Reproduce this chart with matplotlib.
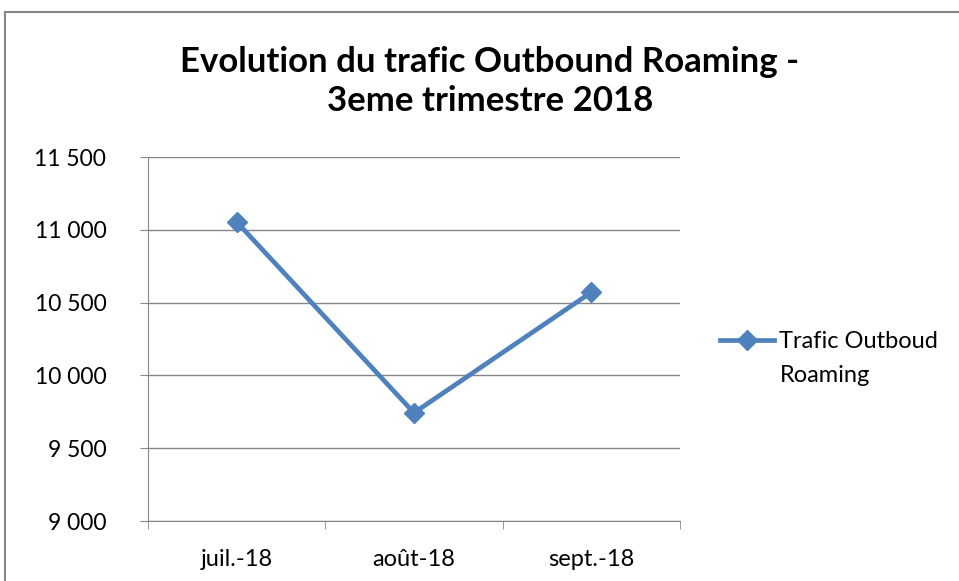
import matplotlib.pyplot as plt
from matplotlib.patches import Rectangle
from matplotlib.ticker import FuncFormatter, FixedLocator

# donnees
mois = ["juil.-18", "août-18", "sept.-18"]
trafic = [11054, 9743, 10571]
serie = "Trafic Outboud"
titre = "Evolution du trafic Outbound Roaming -\n3eme trimestre 2018"

plt.rcParams['font.family'] = ['Lato', 'DejaVu Sans']

fig = plt.figure(figsize=(9.59, 5.81), dpi=100)
ax = fig.add_axes([148/959, 1 - 521/581, (680-148)/959, (521-157)/581])

# cadre du graphique
fig.patches.append(Rectangle((5/959, -0.1), 1.1, 1 - 12/581 + 0.1, transform=fig.transFigure,
                             fill=False, edgecolor='#868686', lw=1.5))

x = range(len(mois))
ax.plot(x, trafic, color='#4F81BD', lw=3.4, marker='D', ms=10, label=serie, zorder=3)

ax.set_xlim(-0.5, len(mois) - 0.5)
ax.set_ylim(9000, 11500)
ax.set_yticks(range(9000, 11501, 500))
ax.yaxis.set_major_formatter(FuncFormatter(lambda v, p: f"{v:,.0f}".replace(",", " ")))
ax.set_xticks(list(x))
ax.set_xticklabels(mois)
ax.xaxis.set_minor_locator(FixedLocator([i - 0.5 for i in range(len(mois) + 1)]))
ax.tick_params(axis='x', which='major', length=0, labelsize=17, pad=20)
ax.tick_params(axis='x', which='minor', length=6, color='#868686', direction='out')
ax.tick_params(axis='y', length=6, color='#868686', labelsize=16.5, pad=24)

ax.grid(axis='y', color='#868686', lw=1)
ax.set_axisbelow(True)
for s in ['top', 'right']:
    ax.spines[s].set_visible(False)
for s in ['left', 'bottom']:
    ax.spines[s].set_color('#868686')

fig.text(490/959, 1 - 81.5/581, titre, fontsize=25, fontweight='bold', ha='center', va='center',
         linespacing=1.3)

ax.legend(loc='center left', bbox_to_anchor=(720/959, 1 - 342/581), bbox_transform=fig.transFigure,
          frameon=False, fontsize=17, handlelength=2.3, handletextpad=0.2, borderaxespad=0,
          borderpad=0)
fig.text(780/959, 1 - 376/581, "Roaming", fontsize=17, va='center', ha='left')

fig.savefig("out.png", dpi=100)
